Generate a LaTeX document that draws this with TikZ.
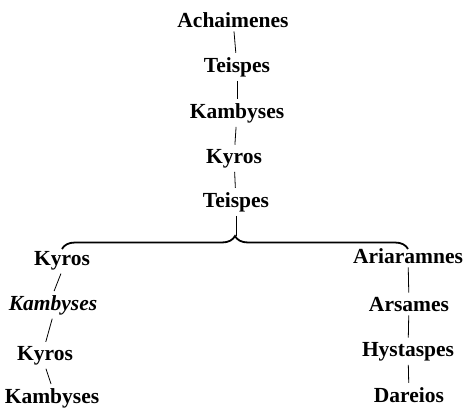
\documentclass[tikz,border=0pt]{standalone}
\usepackage{fontspec}
\setmainfont{Liberation Serif}
\usetikzlibrary{decorations.pathreplacing}

\tikzset{
	person/.style={font=\fontsize{21.5}{24}\selectfont\bfseries, inner sep=1pt, anchor=base},
	link/.style={line width=0.8pt, shorten <=3pt, shorten >=3pt},
}

\begin{document}
\begin{tikzpicture}[x=1pt, y=-1pt]
				\useasboundingbox (0,0) rectangle (469,410);
				% main line
				\node[person] (Ach)at(233, 27) {Achaimenes};
				\node[person] (TeiA)at(237, 72) {Teispes};
				\node[person] (KamA)at(237, 118) {Kambyses};
				\node[person] (KyrA)at(234, 163) {Kyros};
				\node[person] (TeiB)at(236, 207) {Teispes};
				\draw[link] (Ach) -- (TeiA);
				\draw[link] (TeiA) -- (KamA);
				\draw[link] (KamA) -- (KyrA);
				\draw[link] (KyrA) -- (TeiB);
				% brace
				\coordinate (braceL) at (62, 249);
				\coordinate (braceR) at (408, 249);
				\coordinate (tip) at (236, 236);
				\draw[line width=1.8pt, decorate, decoration={brace, amplitude=13pt}] (braceL) -- (braceR);
				\draw[link, shorten >=0pt] (TeiB) -- (tip);
				% left branch
				\node[person] (KyrB)at(62, 265) {Kyros};
				\node[person, font=\fontsize{21.5}{24}\selectfont\bfseries\itshape] (KamB)at(53, 310) {Kambyses};
				\node[person] (KyrC)at(45, 360) {Kyros};
				\node[person] (KamC)at(52, 403) {Kambyses};
				\draw[link] (KyrB.south) -- (KamB.north);
				\draw[link] (KamB.south) -- (KyrC.north);
				\draw[link] (KyrC.south) -- (KamC.north);
				% right branch
				\node[person] (Ari)at(408, 263) {Ariaramnes};
				\node[person] (Ars)at(409, 311) {Arsames};
				\node[person] (Hys)at(408, 356) {Hystaspes};
				\node[person] (Dar)at(409, 402) {Dareios};
				\draw[link] (Ari) -- (Ars);
				\draw[link] (Ars) -- (Hys);
				\draw[link] (Hys) -- (Dar);
			\end{tikzpicture}
\end{document}
